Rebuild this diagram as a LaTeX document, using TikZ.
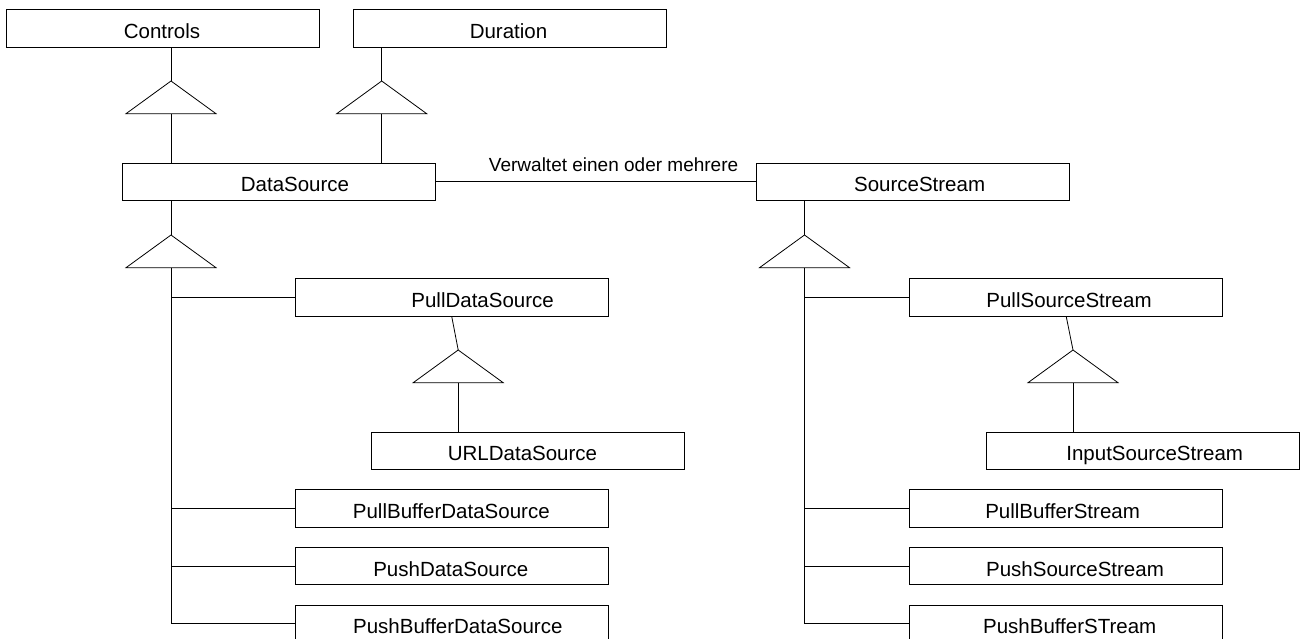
\documentclass[tikz,border=0pt]{standalone}
\usepackage{fontspec}
\setmainfont{Liberation Sans}
\begin{document}
\begin{tikzpicture}[x=1pt,y=-1pt,
  line width=0.9pt,
  classbox/.style={draw, rectangle, anchor=north west, inner sep=0pt,
    minimum width=313pt, minimum height=37.4pt},
  clsname/.style={anchor=base, inner sep=0pt, font=\fontsize{20.5}{24}\selectfont},
  assoc/.style={anchor=base, inner sep=0pt, font=\fontsize{19}{22}\selectfont},
  link/.style={draw, line width=0.8pt}]
\useasboundingbox (0,0) rectangle (1301,639);

% class boxes
\node[classbox] (ctrl)   at (6.3,9.3) {};
\node[classbox] (dur)    at (352.7,9.3) {};
\node[classbox] (ds)     at (122,162.7) {};
\node[classbox] (ss)     at (755.8,162.7) {};
\node[classbox] (pds)    at (294.8,278.3) {};
\node[classbox] (url)    at (371.3,431.7) {};
\node[classbox] (pbds)   at (294.8,489.3) {};
\node[classbox] (pushds) at (294.8,547) {};
\node[classbox] (pbufds) at (294.8,604.7) {};
\node[classbox] (pss)    at (909.3,278.3) {};
\node[classbox] (iss)    at (986.4,431.7) {};
\node[classbox] (pbs)    at (909.3,489.3) {};
\node[classbox] (pushss) at (909.3,547) {};
\node[classbox] (pbufss) at (909.3,604.7) {};

% class names
\node[clsname] (ctrlT)   at (162,38.3)    {Controls};
\node[clsname] (durT)    at (508.5,38.3)  {Duration};
\node[clsname] (dsT)     at (295,191.7)   {DataSource};
\node[clsname] (ssT)     at (919.6,191.7) {SourceStream};
\node[clsname] (pdsT)    at (482.6,307.3) {PullDataSource};
\node[clsname] (urlT)    at (522.5,460.7) {URLDataSource};
\node[clsname] (pbdsT)   at (451.3,518.3) {PullBufferDataSource};
\node[clsname] (pushdsT) at (450.8,576)   {PushDataSource};
\node[clsname] (pbufdsT) at (457.8,633.7) {PushBufferDataSource};
\node[clsname] (pssT)    at (1069,307.3)  {PullSourceStream};
\node[clsname] (issT)    at (1154.7,460.7){InputSourceStream};
\node[clsname] (pbsT)    at (1062.6,518.3){PullBufferStream};
\node[clsname] (pushssT) at (1075,576)    {PushSourceStream};
\node[clsname] (pbufssT) at (1069.7,633.7){PushBufferSTream};

% inheritance triangles: apex and base centre
\foreach \t/\ax/\ay in {t1/171/81, t2/381.7/81, t3/171/235, t4/804.5/235,
                        t5/458.2/350, t6/1073/350}{
  \coordinate (\t) at (\ax,\ay);
  \coordinate (\t b) at (\ax,\ay+32.7);
  \draw[link] (\t) -- ++(-45,32.7) -- ++(90,0) -- cycle;
}

% generalisation links
\draw[link] (ctrl.south -| t1) -- (t1);
\draw[link] (t1b) -- (ds.north -| t1b);
\draw[link] (dur.south -| t2) -- (t2);
\draw[link] (t2b) -- (ds.north -| t2b);

\draw[link] (ds.south -| t3) -- (t3);
\draw[link] (t3b) |- (pbufds.west);
\draw[link] (t3b |- pds.west) -- (pds.west);
\draw[link] (t3b |- pbds.west) -- (pbds.west);
\draw[link] (t3b |- pushds.west) -- (pushds.west);

\draw[link] (ss.south -| t4) -- (t4);
\draw[link] (t4b) |- (pbufss.west);
\draw[link] (t4b |- pss.west) -- (pss.west);
\draw[link] (t4b |- pbs.west) -- (pbs.west);
\draw[link] (t4b |- pushss.west) -- (pushss.west);

\draw[link] (pds.south) -- (t5);
\draw[link] (t5b) -- (url.north -| t5b);
\draw[link] (pss.south) -- (t6);
\draw[link] (t6b) -- (iss.north -| t6b);

% association
\draw[link] (ds.east) -- (ss.west);
\node[assoc] (assocT) at (613.6,171.7) {Verwaltet einen oder mehrere};
\end{tikzpicture}
\end{document}
